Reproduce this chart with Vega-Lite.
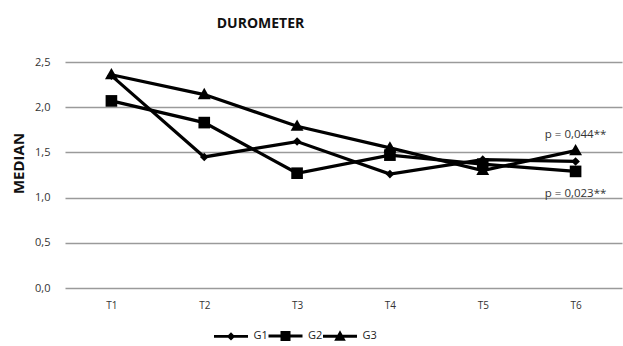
{
  "$schema": "https://vega.github.io/schema/vega-lite/v6.json",
  "autosize": {"type": "none"},
  "width": 557,
  "height": 235,
  "padding": {"left": 65, "top": 53, "right": 1, "bottom": 58},
  "background": "white",
  "title": {"text": "DUROMETER", "fontSize": 14, "fontWeight": "bold", "font": "Open Sans", "color": "#111", "anchor": "middle", "dx": -83, "offset": 22},
  "config": {
    "view": {"stroke": null},
    "font": "Open Sans"
  },
  "datasets": {
    "main": [
      {"time": "T1", "group": "G1", "median": 2.35},
      {"time": "T2", "group": "G1", "median": 1.45},
      {"time": "T3", "group": "G1", "median": 1.62},
      {"time": "T4", "group": "G1", "median": 1.26},
      {"time": "T5", "group": "G1", "median": 1.42},
      {"time": "T6", "group": "G1", "median": 1.40},
      {"time": "T1", "group": "G2", "median": 2.07},
      {"time": "T2", "group": "G2", "median": 1.83},
      {"time": "T3", "group": "G2", "median": 1.27},
      {"time": "T4", "group": "G2", "median": 1.47},
      {"time": "T5", "group": "G2", "median": 1.37},
      {"time": "T6", "group": "G2", "median": 1.29},
      {"time": "T1", "group": "G3", "median": 2.36},
      {"time": "T2", "group": "G3", "median": 2.14},
      {"time": "T3", "group": "G3", "median": 1.79},
      {"time": "T4", "group": "G3", "median": 1.55},
      {"time": "T5", "group": "G3", "median": 1.30},
      {"time": "T6", "group": "G3", "median": 1.52}
    ],
    "notes": [
      {"time": "T6", "median": 1.69, "label": "p = 0,044**"},
      {"time": "T6", "median": 1.04, "label": "p = 0,023**"}
    ]
  },
  "layer": [
    {
      "data": {"name": "main"},
      "mark": {"type": "line", "color": "black", "strokeWidth": 3.2},
      "encoding": {
        "x": {"field": "time", "type": "ordinal", "scale": {"type": "point", "padding": 0.5},
          "axis": {"title": null, "labelAngle": 0, "domain": false, "ticks": false, "labelPadding": 12, "labelFontSize": 10, "labelColor": "#333", "labelFont": "Open Sans"}},
        "y": {"field": "median", "type": "quantitative", "scale": {"domain": [0, 2.5]},
          "axis": {"values": [0, 0.5, 1, 1.5, 2, 2.5], "labelExpr": "replace(format(datum.value, '.1f'), '.', ',')", "domain": false, "ticks": false, "labelPadding": 15, "labelFontSize": 11, "labelColor": "#333", "gridColor": "#9a9a9a", "gridWidth": 1.5, "title": "MEDIAN", "titleFontSize": 15, "titleFontWeight": "bold", "titleColor": "#111", "titleX": -47, "titleY": 110, "titleAngle": -90, "titleBaseline": "middle", "titleAlign": "center"}},
        "detail": {"field": "group"}
      }
    },
    {
      "data": {"name": "main"},
      "mark": {"type": "point", "filled": true, "color": "black", "opacity": 1, "size": 150},
      "encoding": {
        "x": {"field": "time", "type": "ordinal"},
        "y": {"field": "median", "type": "quantitative"},
        "shape": {"field": "group", "type": "nominal",
          "scale": {"domain": ["G1", "G2", "G3"], "range": ["M0,-0.7L0.7,0L0,0.7L-0.7,0Z", "M-0.95,-0.95L0.95,-0.95L0.95,0.95L-0.95,0.95Z", "M0,-1.1L1.05,0.75L-1.05,0.75Z"]},
          "legend": null
        }
      }
    },
    {
      "data": {"name": "main"},
      "transform": [{"filter": "false"}],
      "mark": {"type": "point", "filled": true, "color": "black", "opacity": 1},
      "encoding": {
        "x": {"field": "time", "type": "ordinal"},
        "y": {"field": "median", "type": "quantitative"},
        "shape": {"field": "group", "type": "nominal",
          "scale": {"domain": ["G1", "G2", "G3"], "range": ["M-1.7,-0.14L1.7,-0.14L1.7,0.14L-1.7,0.14ZM0,-0.42L0.42,0L0,0.42L-0.42,0Z", "M-1.7,-0.14L1.7,-0.14L1.7,0.14L-1.7,0.14ZM-0.5,-0.5L0.5,-0.5L0.5,0.5L-0.5,0.5Z", "M-1.7,-0.14L1.7,-0.14L1.7,0.14L-1.7,0.14ZM0,-0.6L0.58,0.45L-0.58,0.45Z"]},
          "legend": {"title": null, "orient": "none", "direction": "horizontal", "legendX": 155, "legendY": 272, "padding": 0, "symbolSize": 400, "labelOffset": 11.5, "columnPadding": -2.5, "labelFontSize": 11, "labelColor": "#222", "labelFont": "Open Sans", "symbolFillColor": "black", "symbolOpacity": 1}
        }
      }
    },
    {
      "data": {"name": "notes"},
      "mark": {"type": "text", "fontSize": 11.5, "color": "#333", "font": "Open Sans"},
      "encoding": {
        "x": {"field": "time", "type": "ordinal"},
        "y": {"field": "median", "type": "quantitative"},
        "text": {"field": "label"}
      }
    }
  ],
  "resolve": {"scale": {"shape": "independent"}}
}
